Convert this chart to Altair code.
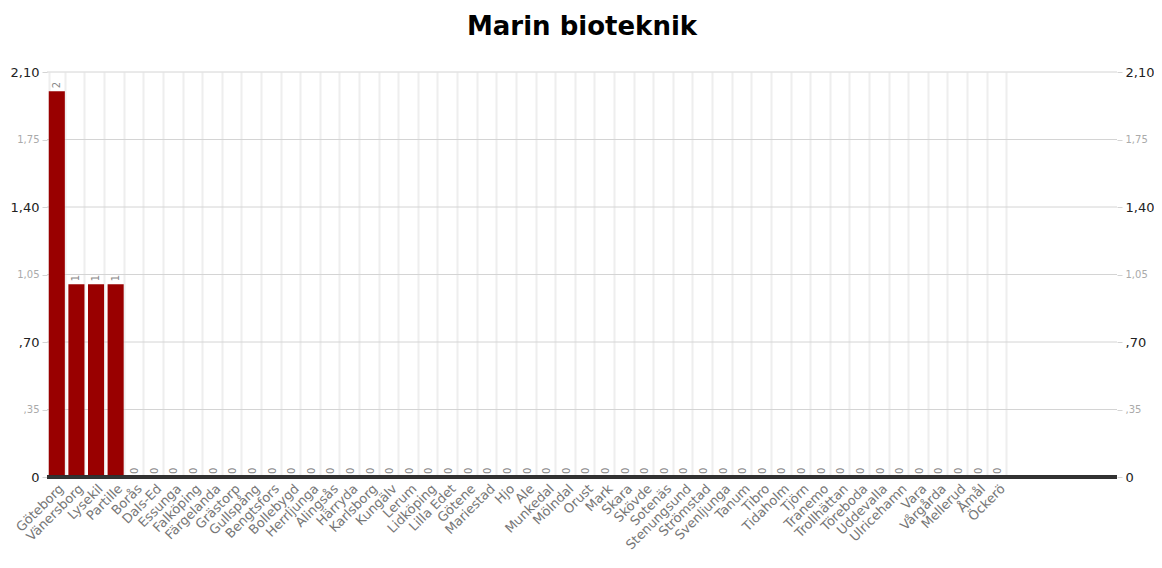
import altair as alt
import pandas as pd

municipalities = [
    "Göteborg", "Vänersborg", "Lysekil", "Partille", "Borås", "Dals-Ed", "Essunga",
    "Falköping", "Färgelanda", "Grästorp", "Gullspång", "Bengtsfors", "Bollebygd",
    "Herrljunga", "Alingsås", "Härryda", "Karlsborg", "Kungälv", "Lerum", "Lidköping",
    "Lilla Edet", "Götene", "Mariestad", "Hjo", "Ale", "Munkedal", "Mölndal", "Orust",
    "Mark", "Skara", "Skövde", "Sotenäs", "Stenungsund", "Strömstad", "Svenljunga",
    "Tanum", "Tibro", "Tidaholm", "Tjörn", "Tranemo", "Trollhättan", "Töreboda",
    "Uddevalla", "Ulricehamn", "Vara", "Vårgårda", "Mellerud", "Åmål", "Öckerö",
]
values = [
    2, 1, 1, 1, 0, 0, 0, 0, 0, 0, 0, 0, 0, 0, 0, 0, 0, 0, 0, 0, 0, 0, 0, 0, 0,
    0, 0, 0, 0, 0, 0, 0, 0, 0, 0, 0, 0, 0, 0, 0, 0, 0, 0, 0, 0, 0, 0, 0, 0,
]
y_ticks = [0, 0.35, 0.70, 1.05, 1.40, 1.75, 2.10]
y_domain = [0, 2.10]

df = pd.DataFrame({"kommun": municipalities, "antal": values})
grid_df = pd.DataFrame({"tick": y_ticks[1:]})

FONT = "DejaVu Sans"
major = "round(datum.value * 100) % 70 == 0"
label_expr = (
    "datum.value == 0 ? '0' : (datum.value < 1 ? ',' + substring(format(datum.value, '.2f'), 2)"
    " : replace(format(datum.value, '.2f'), '.', ','))"
)


def y_axis(orient):
    return alt.Axis(
        orient=orient,
        values=y_ticks,
        title=None,
        grid=False,
        domain=False,
        ticks=True,
        tickSize=5,
        tickColor="#d4d4d4",
        labelExpr=label_expr,
        labelFont=FONT,
        labelColor={"condition": {"test": major, "value": "#222222"}, "value": "#aaaaaa"},
        labelFontSize={"condition": {"test": major, "value": 13}, "value": 10},
        labelPadding=3,
    )


x_enc = alt.X(
    "kommun:N",
    sort=municipalities,
    scale=alt.Scale(range=[0, 961], paddingInner=0.18, paddingOuter=0.09),
    axis=alt.Axis(
        title=None,
        labelAngle=-45,
        labelAlign="right",
        labelBaseline="top",
        labelColor="#777777",
        labelFont=FONT,
        labelFontSize=13,
        labelPadding=5,
        domain=False,
        ticks=False,
        grid=True,
        gridColor="#eeeeee",
        gridWidth=2,
        tickBand="extent",
    ),
)

y_scale = alt.Scale(domain=y_domain, nice=False, zero=True)

hgrid = alt.Chart(grid_df).mark_rule(color="#d4d4d4", strokeWidth=1).encode(
    y=alt.Y("tick:Q", scale=y_scale, axis=None),
    x=alt.value(0),
    x2=alt.value(1070),
)

bars = alt.Chart(df).mark_bar(color="#990000").encode(
    x=x_enc,
    y=alt.Y("antal:Q", scale=y_scale, axis=y_axis("left")),
)

labels = alt.Chart(df).mark_text(
    angle=270, align="left", baseline="middle", dx=3, color="#888888", fontSize=10, font=FONT
).encode(
    x=x_enc,
    y=alt.Y("antal:Q", scale=y_scale, axis=y_axis("right")),
    text=alt.Text("antal:Q"),
)

baseline = alt.Chart(df).mark_rule(color="#333333", strokeWidth=2.5).encode(
    y=alt.Y(datum=0, type="quantitative", scale=y_scale, axis=None),
    x=alt.value(0),
    x2=alt.value(1070),
)

chart = (
    alt.layer(hgrid, bars, labels, baseline)
    .resolve_axis(y="independent")
    .properties(
        width=1070,
        height=405,
        title=alt.Title(
            "Marin bioteknik", fontSize=26, font=FONT, fontWeight="bold",
            color="#000000", offset=26, anchor="middle",
        ),
        autosize=alt.AutoSizeParams(type="none"),
        padding={"left": 39, "top": 64, "right": 37, "bottom": 78},
    )
    .configure_view(stroke=None)
)

chart.save("out.html", embed_options={"renderer": "svg", "actions": False})
